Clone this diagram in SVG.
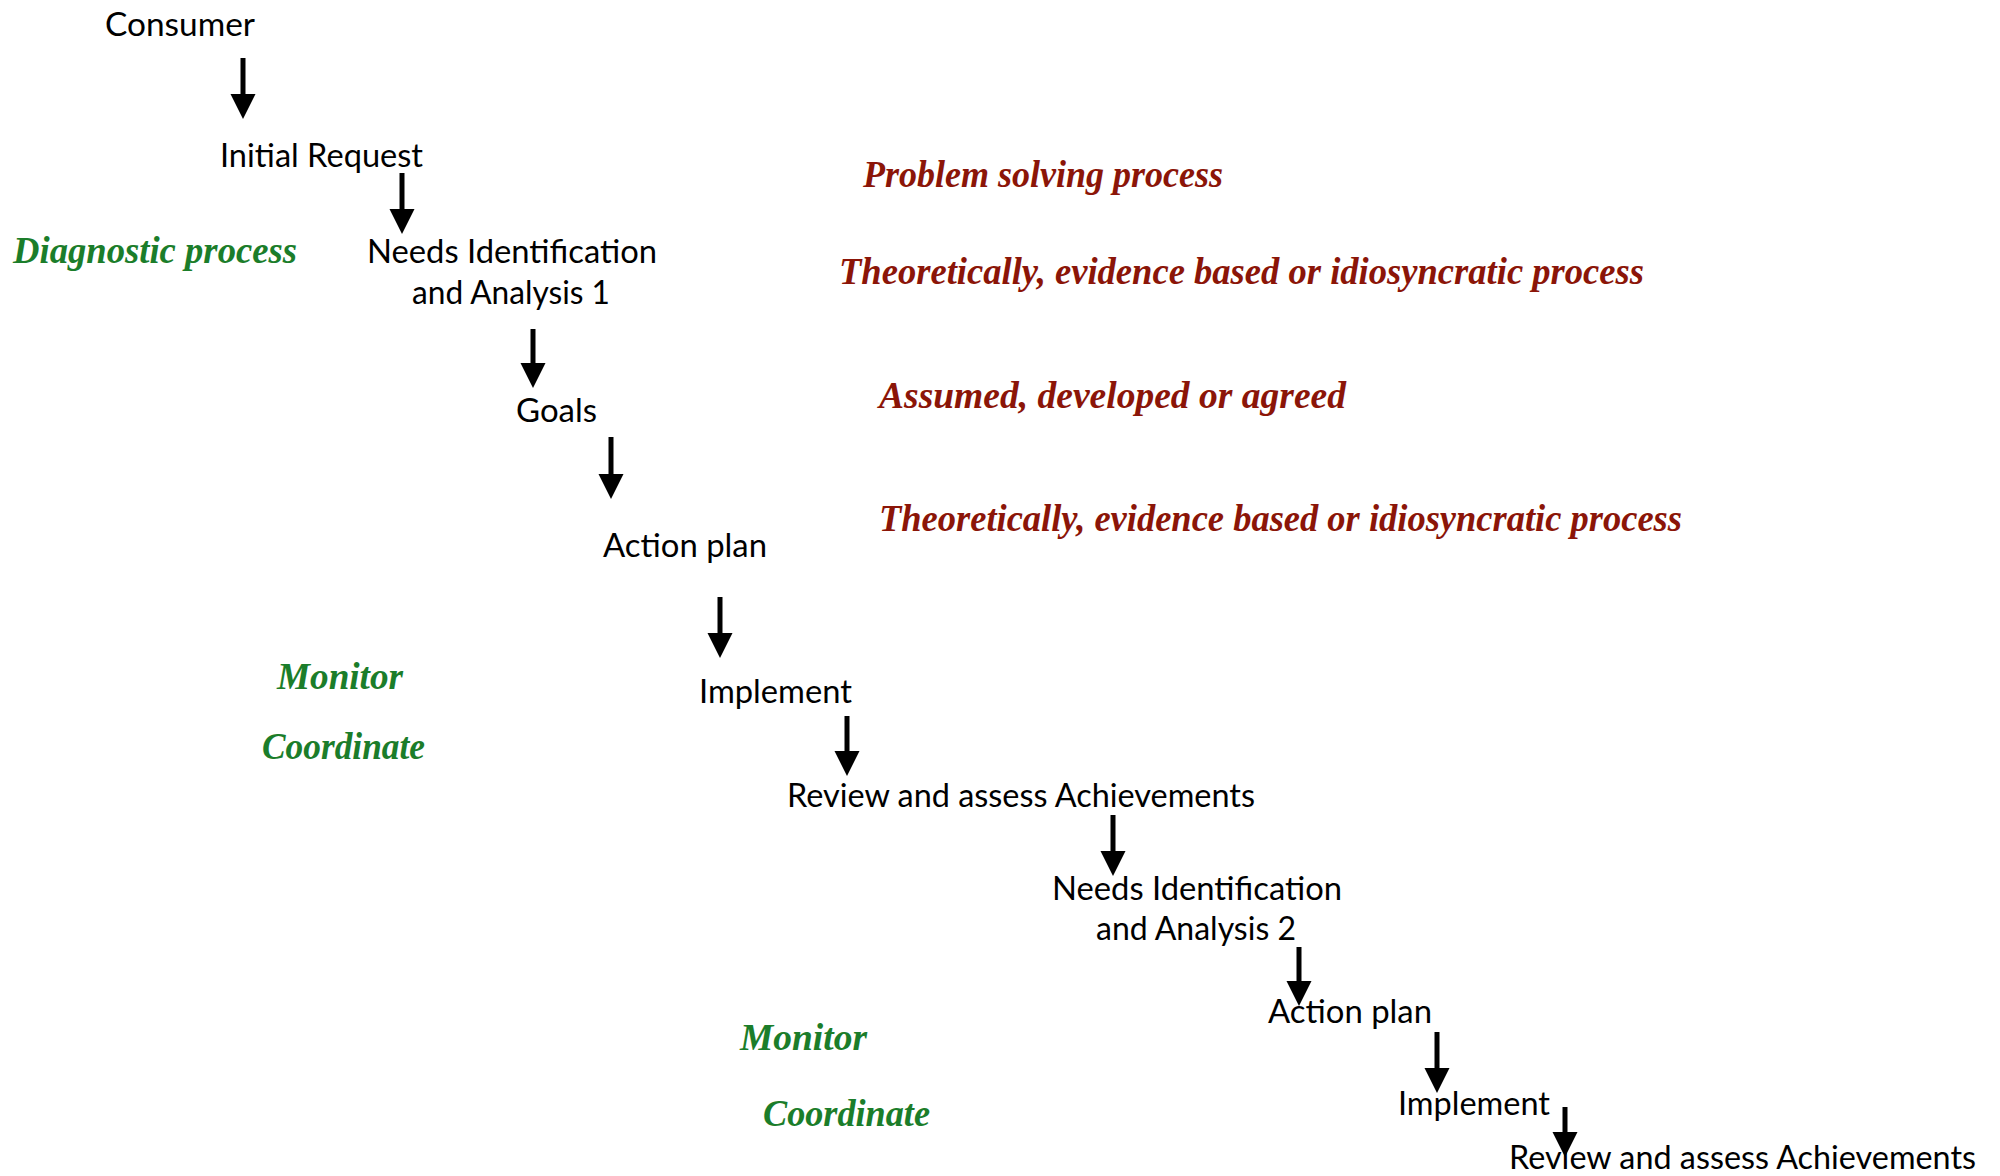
<svg xmlns="http://www.w3.org/2000/svg" width="2000" height="1176" viewBox="0 0 2000 1176">
<defs>
<style>
.t{font-family:Lato,"Open Sans","Liberation Sans",sans-serif;font-size:33px;fill:#000;}
.g{font-family:"Liberation Serif","DejaVu Serif",serif;font-style:italic;font-weight:bold;font-size:38px;fill:#1b7d2a;}
.r{font-family:"Liberation Serif","DejaVu Serif",serif;font-style:italic;font-weight:bold;font-size:38px;fill:#8b1508;}
.a{stroke:#000;stroke-width:5;fill:none;marker-end:url(#ah);}
</style>
<marker id="ah" markerUnits="userSpaceOnUse" markerWidth="25" markerHeight="26" viewBox="0 -13 25 26" refX="0" refY="0" orient="auto">
<path d="M0,-12.5 L25,0 L0,12.5 z" fill="#000"/>
</marker>
</defs>
<rect width="2000" height="1176" fill="#fff"/>
<g id="connectors">
<line class="a" x1="243" y1="58" x2="243" y2="94"/>
<line class="a" x1="402" y1="173" x2="402" y2="209"/>
<line class="a" x1="533" y1="329" x2="533" y2="363"/>
<line class="a" x1="611" y1="437" x2="611" y2="474"/>
<line class="a" x1="720" y1="597" x2="720" y2="633"/>
<line class="a" x1="847" y1="716" x2="847" y2="751"/>
<line class="a" x1="1113" y1="815" x2="1113" y2="851"/>
<line class="a" x1="1299" y1="947" x2="1299" y2="981"/>
<line class="a" x1="1437" y1="1032" x2="1437" y2="1068"/>
<line class="a" x1="1565" y1="1107" x2="1565" y2="1132"/>
</g>
<g id="consumer"><text class="t" x="105" y="36" textLength="150" lengthAdjust="spacingAndGlyphs">Consumer</text></g>
<g id="initial-request"><text class="t" x="220" y="167" textLength="203" lengthAdjust="spacingAndGlyphs">Initial Request</text></g>
<g id="needs-1">
<text class="t" x="367" y="263" textLength="290" lengthAdjust="spacingAndGlyphs">Needs Identification</text>
<text class="t" x="412" y="304" textLength="198" lengthAdjust="spacingAndGlyphs">and Analysis 1</text>
</g>
<g id="goals"><text class="t" x="516" y="422" textLength="81" lengthAdjust="spacingAndGlyphs">Goals</text></g>
<g id="action-plan-1"><text class="t" x="603" y="557" textLength="164" lengthAdjust="spacingAndGlyphs">Action plan</text></g>
<g id="implement-1"><text class="t" x="699" y="703" textLength="153" lengthAdjust="spacingAndGlyphs">Implement</text></g>
<g id="review-1"><text class="t" x="787" y="807" textLength="468" lengthAdjust="spacingAndGlyphs">Review and assess Achievements</text></g>
<g id="needs-2">
<text class="t" x="1052" y="900" textLength="290" lengthAdjust="spacingAndGlyphs">Needs Identification</text>
<text class="t" x="1096" y="940" textLength="200" lengthAdjust="spacingAndGlyphs">and Analysis 2</text>
</g>
<g id="action-plan-2"><text class="t" x="1268" y="1023" textLength="164" lengthAdjust="spacingAndGlyphs">Action plan</text></g>
<g id="implement-2"><text class="t" x="1398" y="1115" textLength="152" lengthAdjust="spacingAndGlyphs">Implement</text></g>
<g id="review-2"><text class="t" x="1509" y="1169" textLength="467" lengthAdjust="spacingAndGlyphs">Review and assess Achievements</text></g>
<g id="diagnostic"><text class="g" x="13" y="263" textLength="284" lengthAdjust="spacingAndGlyphs">Diagnostic process</text></g>
<g id="monitor-1"><text class="g" x="277" y="689" textLength="126" lengthAdjust="spacingAndGlyphs">Monitor</text></g>
<g id="coordinate-1"><text class="g" x="262" y="759" textLength="163" lengthAdjust="spacingAndGlyphs">Coordinate</text></g>
<g id="monitor-2"><text class="g" x="740" y="1050" textLength="127" lengthAdjust="spacingAndGlyphs">Monitor</text></g>
<g id="coordinate-2"><text class="g" x="763" y="1126" textLength="167" lengthAdjust="spacingAndGlyphs">Coordinate</text></g>
<g id="problem-solving"><text class="r" x="863" y="187" textLength="360" lengthAdjust="spacingAndGlyphs">Problem solving process</text></g>
<g id="theoretically-1"><text class="r" x="839" y="284" textLength="805" lengthAdjust="spacingAndGlyphs">Theoretically, evidence based or idiosyncratic process</text></g>
<g id="assumed"><text class="r" x="879" y="408" textLength="467" lengthAdjust="spacingAndGlyphs">Assumed, developed or agreed</text></g>
<g id="theoretically-2"><text class="r" x="879" y="531" textLength="803" lengthAdjust="spacingAndGlyphs">Theoretically, evidence based or idiosyncratic process</text></g>
</svg>
